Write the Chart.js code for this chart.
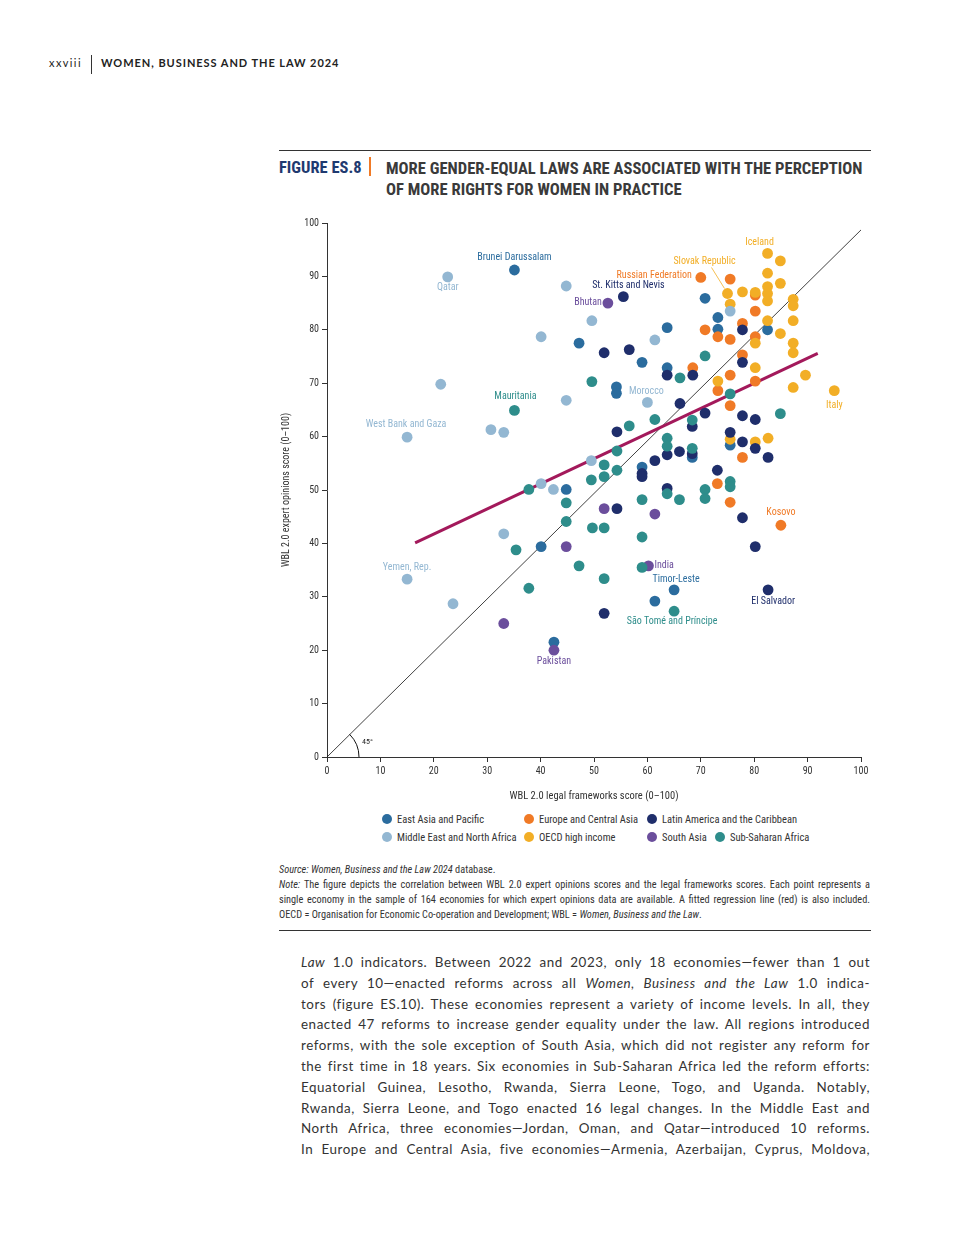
<!DOCTYPE html>
<html>
<head>
<meta charset="utf-8">
<script src="https://cdn.jsdelivr.net/npm/chart.js@4.4.1/dist/chart.umd.min.js"></script>
<style>
  html, body { margin:0; padding:0; background:#fff; }
  body { width:960px; height:1260px; position:relative; font-family: Lato, "Open Sans", sans-serif; color:#333; }
  .cond { font-family: "Liberation Sans Narrow", "Roboto Condensed", "DejaVu Sans Condensed", "Arial Narrow", sans-serif; }
  #runhead { position:absolute; left:49px; top:56px; font-size:11px; letter-spacing:1.4px; color:#222; }
  #runhead .sep { position:absolute; left:42px; top:-1px; width:1px; height:19px; background:#333; }
  #runhead .ttl { position:absolute; left:52px; top:0; white-space:nowrap; font-weight:bold; letter-spacing:0.95px; }
  .rule { position:absolute; left:279px; width:592px; height:1px; background:#333; }
  #fig { position:absolute; left:279px; top:158px; font-size:16.5px; font-weight:bold; color:#1f3a70; }
  #bar { position:absolute; left:369px; top:157px; width:2px; height:19px; background:#f07a26; }
  #title { position:absolute; left:386px; top:158px; font-size:16.6px; font-weight:bold; color:#3a3a3a; line-height:21px; }
  #chartBox { position:absolute; left:279px; top:213px; }
  #legend { position:absolute; left:0; top:0; font-size:10.5px; color:#333; }
  .li { position:absolute; white-space:nowrap; }
  .li i { position:absolute; left:0; top:1px; width:10px; height:10px; border-radius:50%; }
  .li span { position:absolute; left:15px; top:0; }
  #notes { position:absolute; left:279px; top:862px; width:591px; font-size:10.3px; line-height:15px; color:#333; }
  #notes .j { text-align:justify; text-align-last:justify; }
  #body { position:absolute; left:301px; top:952px; width:569px; font-size:13.4px; line-height:20.8px; color:#333; letter-spacing:0.55px; }
  #body div { text-align:justify; text-align-last:justify; }
</style>
</head>
<body>
<div id="runhead">xxviii<div class="sep"></div><div class="ttl">WOMEN, BUSINESS AND THE LAW 2024</div></div>
<div class="rule" style="top:150px"></div>
<div id="fig" class="cond">FIGURE ES.8</div>
<div id="bar"></div>
<div id="title" class="cond">MORE GENDER-EQUAL LAWS ARE ASSOCIATED WITH THE PERCEPTION<br>OF MORE RIGHTS FOR WOMEN IN PRACTICE</div>
<div id="chartBox"><canvas id="scatter" width="601" height="597"></canvas></div>
<div id="legend" class="cond"></div>
<div id="notes" class="cond">
  <div><i>Source: Women, Business and the Law 2024</i> database.</div>
  <div class="j"><i>Note:</i> The figure depicts the correlation between WBL 2.0 expert opinions scores and the legal frameworks scores. Each point represents a</div>
  <div class="j">single economy in the sample of 164 economies for which expert opinions data are available. A fitted regression line (red) is also included.</div>
  <div>OECD = Organisation for Economic Co-operation and Development; WBL = <i>Women, Business and the Law</i>.</div>
</div>
<div class="rule" style="top:930px"></div>
<div id="body">
  <div><i>Law</i> 1.0 indicators. Between 2022 and 2023, only 18 economies—fewer than 1 out</div>
  <div>of every 10—enacted reforms across all <i>Women, Business and the Law</i> 1.0 indica-</div>
  <div>tors (figure ES.10). These economies represent a variety of income levels. In all, they</div>
  <div>enacted 47 reforms to increase gender equality under the law. All regions introduced</div>
  <div>reforms, with the sole exception of South Asia, which did not register any reform for</div>
  <div>the first time in 18 years. Six economies in Sub-Saharan Africa led the reform efforts:</div>
  <div>Equatorial Guinea, Lesotho, Rwanda, Sierra Leone, Togo, and Uganda. Notably,</div>
  <div>Rwanda, Sierra Leone, and Togo enacted 16 legal changes. In the Middle East and</div>
  <div>North Africa, three economies—Jordan, Oman, and Qatar—introduced 10 reforms.</div>
  <div>In Europe and Central Asia, five economies—Armenia, Azerbaijan, Cyprus, Moldova,</div>
</div>

<script>
// values: [legal frameworks score, expert opinions score]
const regions = ['East Asia and Pacific', 'Europe and Central Asia', 'Latin America and the Caribbean',
  'Middle East and North Africa', 'OECD high income', 'South Asia', 'Sub-Saharan Africa'];

const eastAsia = [[35.1,91.2],[47.2,77.5],[70.8,85.9],[73.2,82.3],[73.2,80.1],[63.7,80.4],[59.0,73.9],
  [63.7,72.9],[54.2,69.3],[54.2,68.1],[82.5,80.0],[75.5,58.4],[68.4,56.1],[59.0,54.3],[44.8,50.1],
  [40.1,39.4],[42.5,21.5],[65.0,31.3],[61.4,29.2]];
const europe = [[70.0,89.8],[75.5,89.5],[80.2,86.5],[80.2,83.5],[70.8,80.0],[73.2,78.7],[77.8,81.2],
  [75.5,78.2],[80.2,78.7],[77.8,75.3],[68.5,72.9],[75.5,71.5],[80.2,70.4],[73.2,68.6],[75.5,65.8],
  [77.8,56.1],[73.1,51.2],[75.5,47.7],[85.0,43.4]];
const latam = [[55.5,86.2],[51.9,75.7],[56.6,76.3],[63.7,71.5],[68.5,71.5],[77.8,80.0],[77.8,73.9],
  [66.1,66.2],[70.8,64.4],[77.8,63.9],[80.2,63.2],[68.4,61.9],[54.3,60.9],[63.7,56.6],[66.0,57.2],
  [68.4,56.8],[61.4,55.5],[59.0,53.1],[59.0,52.5],[75.5,60.8],[77.8,59.0],[80.2,57.8],[82.6,56.1],
  [73.1,53.7],[63.7,50.3],[54.3,46.5],[77.8,44.8],[80.2,39.4],[51.9,26.9],[82.6,31.3]];
const mena = [[22.6,89.9],[44.8,88.2],[49.6,81.7],[40.1,78.7],[61.4,78.1],[21.3,69.8],[44.8,66.8],
  [60.0,66.4],[15.0,59.9],[30.7,61.3],[33.1,60.8],[49.5,55.5],[40.1,51.2],[42.4,50.1],[33.1,41.8],
  [15.0,33.3],[23.6,28.7],[75.5,83.5]];
const oecd = [[82.5,94.3],[84.9,92.9],[82.5,90.6],[84.9,88.7],[82.5,88.1],[82.5,86.8],[82.5,85.4],
  [75.0,86.8],[77.8,87.1],[80.2,87.0],[75.5,84.8],[87.3,85.7],[87.3,84.5],[82.5,81.7],[87.3,81.7],
  [84.9,79.3],[80.2,77.5],[87.3,77.5],[87.3,75.7],[80.2,72.9],[89.6,71.5],[73.2,70.4],[87.3,69.2],
  [95.0,68.6],[75.5,59.5],[80.2,59.0],[82.6,59.7]];
const southAsia = [[52.6,85.0],[51.9,46.5],[61.4,45.5],[44.8,39.4],[60.2,35.8],[33.1,25.0],[42.5,20.0]];
const subSahara = [[70.8,75.1],[66.1,71.0],[49.6,70.3],[35.1,64.9],[75.5,68.0],[61.4,63.2],[68.4,63.1],
  [56.6,62.0],[84.9,64.3],[63.7,59.7],[63.7,58.2],[68.4,57.8],[54.3,57.3],[51.9,54.7],[51.9,52.5],
  [54.3,53.7],[49.5,51.9],[37.8,50.1],[44.8,47.6],[44.8,44.1],[63.7,49.3],[59.0,48.2],[66.0,48.2],
  [75.5,51.6],[75.5,50.6],[70.8,50.1],[70.8,48.4],[49.7,42.9],[51.9,42.9],[35.4,38.8],[59.0,41.2],
  [47.2,35.8],[59.0,35.5],[51.9,33.4],[37.8,31.6],[65.0,27.3]];

const fitLine = [[16.5,40.1],[91.9,75.6]];      // fitted regression (red)
const diagLine = [[0,0],[100,98.7]];            // 45 degree reference
const xTicks = [0,10,20,30,40,50,60,70,80,90,100];
const yTicks = [0,10,20,30,40,50,60,70,80,90,100];

// labelled economies: [name, x, y, region index]
const callouts = [
  ['Brunei Darussalam',35.1,91.2,0], ['Qatar',22.6,89.9,3], ['Russian Federation',70.0,89.8,1],
  ['Slovak Republic',75.0,86.8,4], ['Iceland',82.5,94.3,4], ['St. Kitts and Nevis',55.5,86.2,2],
  ['Bhutan',52.6,85.0,5], ['Morocco',60.0,66.4,3], ['Mauritania',35.1,64.9,6],
  ['West Bank and Gaza',15.0,59.9,3], ['Italy',95.0,68.6,4], ['Kosovo',85.0,43.4,1],
  ['India',60.2,35.8,5], ['Timor-Leste',65.0,31.3,0], ['El Salvador',82.6,31.3,2],
  ['São Tomé and Príncipe',65.0,27.3,6], ['Yemen, Rep.',15.0,33.3,3], ['Pakistan',42.5,20.0,5]
];

const colors = ['#2b6c9e','#f07a26','#1f2e6b','#93b7d2','#f2ae26','#6b4e9c','#2e8d8b'];
const labelColors = ['#2b6c9e','#f07a26','#1f2e6b','#93b7d2','#f2ae26','#6b4e9c','#2e8d8b'];
const COND = '"Liberation Sans Narrow", "Roboto Condensed", "DejaVu Sans Condensed", "Arial Narrow", sans-serif';

// where each callout sits relative to its point (px) and how it is aligned
const place = {
  'Brunei Darussalam':[0,-12,'center'], 'Qatar':[0,11,'center'], 'Russian Federation':[-9,-2,'right'],
  'Slovak Republic':[-23,-32,'center'], 'Iceland':[-8,-11,'center'], 'St. Kitts and Nevis':[5,-11,'center'],
  'Bhutan':[-6,-1,'right'], 'Morocco':[-1,-11,'center'], 'Mauritania':[1,-14,'center'],
  'West Bank and Gaza':[-1,-13,'center'], 'Italy':[0,15,'center'], 'Kosovo':[0,-13,'center'],
  'India':[6,0,'left'], 'Timor-Leste':[2,-10,'center'], 'El Salvador':[5,12,'center'],
  'São Tomé and Príncipe':[-2,10,'center'], 'Yemen, Rep.':[0,-12,'center'], 'Pakistan':[0,11,'center']
};

const series = [eastAsia, europe, latam, mena, oecd, southAsia, subSahara];
const drawOrder = [7, 6, 3, 4, 5, 2, 1];

const annotate = {
  id: 'annotate',
  afterDatasetsDraw(chart) {
    const {ctx, scales: {x, y}} = chart;
    const ox = x.getPixelForValue(0), oy = y.getPixelForValue(0);
    ctx.save();
    ctx.strokeStyle = '#111';
    ctx.lineWidth = 1;
    ctx.beginPath();
    ctx.arc(ox, oy, 32, -Math.PI / 4, 0);
    ctx.stroke();
    ctx.fillStyle = '#222';
    ctx.font = '8px ' + COND;
    ctx.textBaseline = 'middle';
    ctx.textAlign = 'left';
    ctx.fillText('45°', ox + 35, oy - 15);

    ctx.font = '10px ' + COND;
    callouts.forEach(([name, vx, vy, r]) => {
      const px = x.getPixelForValue(vx), py = y.getPixelForValue(vy);
      const [dx, dy, al] = place[name];
      ctx.fillStyle = labelColors[r];
      ctx.textAlign = al;
      ctx.fillText(name, px + dx, py + dy);
      if (name === 'Slovak Republic') {
        ctx.strokeStyle = labelColors[r];
        ctx.lineWidth = 0.8;
        ctx.beginPath();
        ctx.moveTo(px - 16, py - 26);
        ctx.lineTo(px - 3, py - 5);
        ctx.stroke();
      }
    });
    ctx.restore();
  }
};

const datasets = series.map((pts, i) => ({
  label: regions[i],
  data: pts.map(p => ({x: p[0], y: p[1]})),
  backgroundColor: colors[i],
  borderColor: colors[i],
  borderWidth: 0,
  pointRadius: 5.4,
  order: drawOrder[i]
}));
datasets.push({
  label: 'fit', data: fitLine.map(p => ({x: p[0], y: p[1]})), showLine: true,
  borderColor: '#a3195b', borderWidth: 3, pointRadius: 0, order: 10
});
datasets.push({
  label: '45', data: diagLine.map(p => ({x: p[0], y: p[1]})), showLine: true,
  borderColor: '#111', borderWidth: 0.8, pointRadius: 0, order: 11
});

const tickFont = {family: COND, size: 10};
new Chart(document.getElementById('scatter'), {
  type: 'scatter',
  data: {datasets},
  options: {
    responsive: false,
    animation: false,
    events: [],
    layout: {padding: {top: 10, right: 19, left: 0, bottom: 0}},
    plugins: {legend: {display: false}, tooltip: {enabled: false}},
    scales: {
      x: {
        min: 0, max: 100,
        afterBuildTicks: s => { s.ticks = xTicks.map(v => ({value: v})); },
        afterFit: s => { s.height = 53; },
        ticks: {font: tickFont, color: '#333', padding: 3},
        grid: {display: true, drawOnChartArea: false, drawTicks: true, tickLength: 5, color: '#333'},
        border: {color: '#333', width: 1},
        title: {display: true, text: 'WBL 2.0 legal frameworks score (0–100)', font: {family: COND, size: 10.5}, color: '#333', padding: {top: 0, bottom: 7}}
      },
      y: {
        min: 0, max: 100,
        afterBuildTicks: s => { s.ticks = yTicks.map(v => ({value: v})); },
        afterFit: s => { s.width = 48; },
        ticks: {font: tickFont, color: '#333', padding: 3},
        grid: {display: true, drawOnChartArea: false, drawTicks: true, tickLength: 5, color: '#333'},
        border: {color: '#333', width: 1},
        title: {display: true, text: 'WBL 2.0 expert opinions score (0–100)', font: {family: COND, size: 10}, color: '#333', padding: {top: 1, bottom: 0}}
      }
    }
  },
  plugins: [annotate]
});

// legend laid out like the figure: two rows
const legendSpots = [[387,813],[529,813],[652,813],[387,831],[529,831],[652,831],[720,831]];
const leg = document.getElementById('legend');
regions.forEach((name, i) => {
  const d = document.createElement('div');
  d.className = 'li';
  d.style.left = (legendSpots[i][0] - 5) + 'px';
  d.style.top = legendSpots[i][1] + 'px';
  d.innerHTML = '<i style="background:' + colors[i] + '"></i><span>' + name + '</span>';
  leg.appendChild(d);
});
</script>
</body>
</html>
